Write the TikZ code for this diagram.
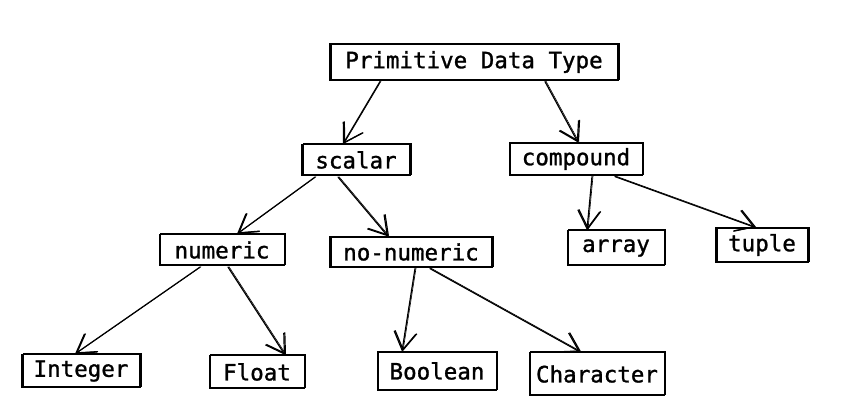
\documentclass[tikz,border=0pt]{standalone}
\usepackage{fontspec}
\setmonofont[FakeBold=1.2]{DejaVu Sans Mono}
\usetikzlibrary{arrows.meta}
\tikzset{
  box/.style={draw=black, line width=1.2pt, fill=white, inner sep=0pt,
    font=\ttfamily\fontsize{22.5}{26}\selectfont,
    postaction={draw, line width=0.7pt, transform canvas={shift={(0.9pt,1.1pt)}}}},
  conn/.style={draw=black, line width=1.2pt, line cap=round,
    -{Straight Barb[length=18pt,width=22pt,line width=1.2pt]},
    postaction={draw, line width=0.6pt, transform canvas={shift={(1pt,0.4pt)}}}}
}
\begin{document}
\begin{tikzpicture}[x=1pt,y=-1pt]
\fill[white] (0,0) rectangle (852,414);
\useasboundingbox (0,0) rectangle (852,414);
\node[box, minimum width=288pt, minimum height=36pt] (P) at (474,62) {Primitive Data Type};
\node[box, minimum width=108pt, minimum height=31pt] (scalar) at (356,160) {scalar};
\node[box, minimum width=133pt, minimum height=32pt] (compound) at (576,159) {compound};
\node[box, minimum width=125pt, minimum height=31pt] (numeric) at (222,250) {numeric};
\node[box, minimum width=162pt, minimum height=30pt] (nonum) at (411,252) {no-numeric};
\node[box, minimum width=97pt, minimum height=35pt] (array) at (616,248) {array};
\node[box, minimum width=92pt, minimum height=34pt] (tuple) at (762,245) {tuple};
\node[box, minimum width=118pt, minimum height=33pt] (int) at (81,371) {Integer};
\node[box, minimum width=95pt, minimum height=33pt] (float) at (257,372) {Float};
\node[box, minimum width=119pt, minimum height=38pt] (bool) at (437,371) {Boolean};
\node[box, minimum width=135pt, minimum height=43pt] (char) at (597,374) {Character};

\draw[conn] ([xshift=-94pt,yshift=-1pt]P.south) -- ([xshift=-13pt]scalar.north);
\draw[conn] ([xshift=71pt,yshift=-1pt]P.south) -- ([xshift=2pt]compound.north);
\draw[conn] ([xshift=-41pt,yshift=-1pt]scalar.south) -- ([xshift=15pt]numeric.north);
\draw[conn] ([xshift=-18pt,yshift=-1pt]scalar.south) -- ([xshift=-23pt]nonum.north);
\draw[conn] ([xshift=16pt,yshift=-1pt]compound.south) -- ([xshift=-29pt]array.north);
\draw[conn] ([xshift=39pt,yshift=-1pt]compound.south) -- ([xshift=-7pt]tuple.north);
\draw[conn] ([xshift=-22pt,yshift=-1pt]numeric.south) -- ([xshift=-6pt]int.north);
\draw[conn] ([xshift=6pt,yshift=-1pt]numeric.south) -- ([xshift=28pt]float.north);
\draw[conn] ([xshift=4pt,yshift=-1pt]nonum.south) -- ([xshift=-35pt]bool.north);
\draw[conn] ([xshift=19pt,yshift=-1pt]nonum.south) -- ([xshift=-17pt]char.north);
\end{tikzpicture}
\end{document}
